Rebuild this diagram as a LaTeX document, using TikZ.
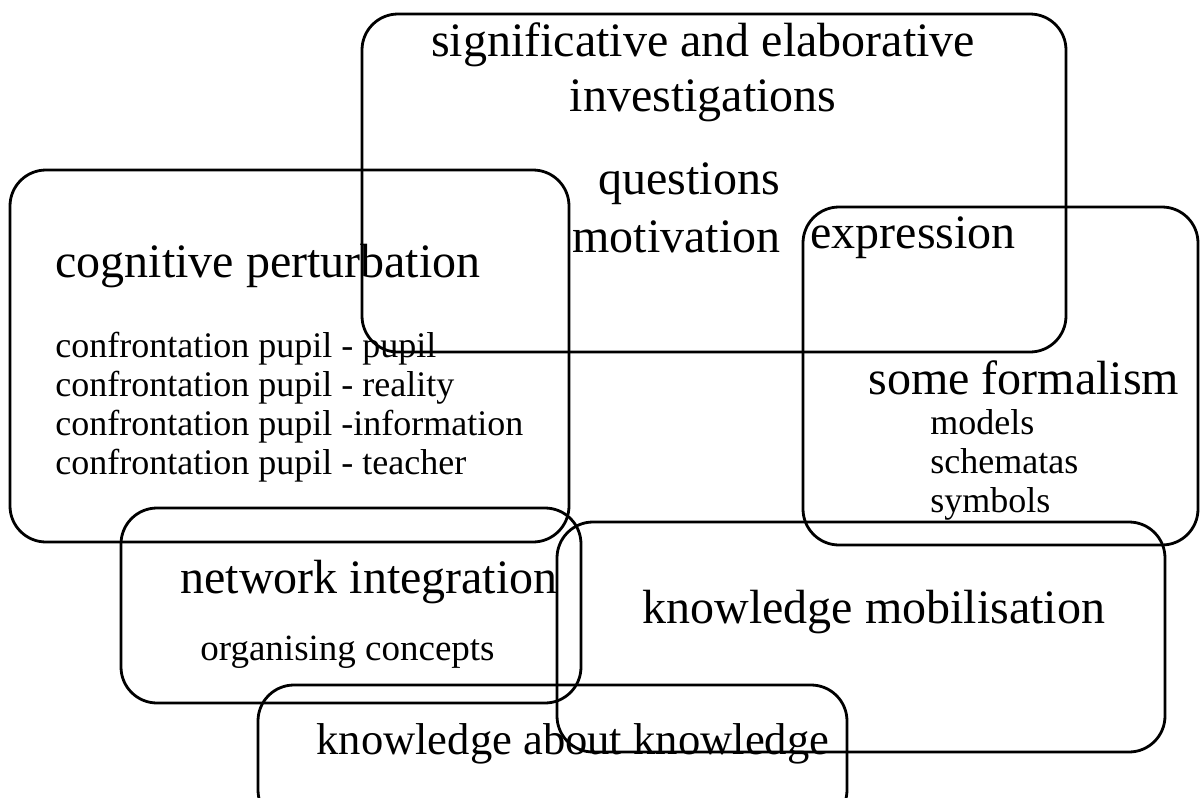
\documentclass[tikz,border=0pt]{standalone}
\usepackage{fontspec}
\setmainfont{Liberation Serif}
\usetikzlibrary{positioning}

\tikzset{
  zone/.style={draw, line width=1.4pt, rounded corners=18pt},
  bigtxt/.style={font=\fontsize{24}{27.5}\selectfont, inner sep=0pt},
  smalltxt/.style={font=\fontsize{18}{19.5}\selectfont, inner sep=0pt, align=left},
}

\begin{document}
\begin{tikzpicture}[x=0.5pt, y=-0.5pt]
\useasboundingbox (0,0) rectangle (1200,798);
\clip (0,0) rectangle (1200,798);

% Zonas
\draw[zone] (362,14) rectangle (1066,352);
\draw[zone] (10,170) rectangle (569,542);
\draw[zone] (803,207) rectangle (1198,545);
\draw[zone] (121,508) rectangle (581,703);
\draw[zone] (557,522) rectangle (1165,752);
\draw[zone] (258,685) rectangle (847,826);

% Investigaciones
\node (signif) at (703,72) [bigtxt, align=center] {significative and elaborative\\investigations};
\node (quest) at (598,184) [bigtxt, anchor=west] {questions};
\node (motiv) at (572,237) [bigtxt, anchor=west] {motivation};
\node (expr) at (810,238) [bigtxt, anchor=west] {expression};

% Perturbacion cognitiva
\node (cogn) at (55,266) [bigtxt, anchor=west] {cognitive perturbation};
\node (confr) at (55,332) [smalltxt, anchor=north west] {confrontation pupil - pupil\\confrontation pupil - reality\\confrontation pupil -information\\confrontation pupil - teacher};

% Formalismo
\node (formal) at (868,378) [bigtxt, anchor=west] {some formalism};
\node (tools) at (930,409) [smalltxt, anchor=north west] {models\\schematas\\symbols};

% Integracion en red
\node (netw) at (180,582) [bigtxt, anchor=west] {network integration};
\node (organ) at (200,652) [smalltxt, anchor=west, font=\fontsize{18.5}{20}\selectfont] {organising concepts};

% Movilizacion y metaconocimiento
\node (mobil) at (642,612) [bigtxt, anchor=west] {knowledge mobilisation};
\node (meta) at (316,744) [bigtxt, anchor=west, font=\fontsize{22.3}{26}\selectfont] {knowledge about knowledge};
\end{tikzpicture}
\end{document}
